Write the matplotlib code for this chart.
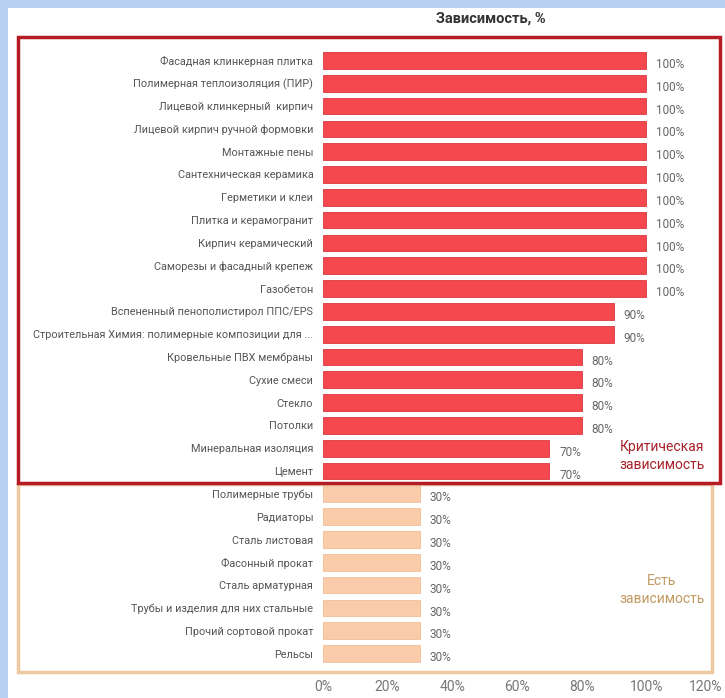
import matplotlib.pyplot as plt
import matplotlib.transforms as mtransforms
from matplotlib.patches import Rectangle

plt.rcParams['font.family'] = ['Roboto', 'DejaVu Sans']

categories = [
    "Фасадная клинкерная плитка",
    "Полимерная теплоизоляция (ПИР)",
    "Лицевой клинкерный  кирпич",
    "Лицевой кирпич ручной формовки",
    "Монтажные пены",
    "Сантехническая керамика",
    "Герметики и клеи",
    "Плитка и керамогранит",
    "Кирпич керамический",
    "Саморезы и фасадный крепеж",
    "Газобетон",
    "Вспененный пенополистирол ППС/EPS",
    "Строительная Химия: полимерные композиции для ...",
    "Кровельные ПВХ мембраны",
    "Сухие смеси",
    "Стекло",
    "Потолки",
    "Минеральная изоляция",
    "Цемент",
    "Полимерные трубы",
    "Радиаторы",
    "Сталь листовая",
    "Фасонный прокат",
    "Сталь арматурная",
    "Трубы и изделия для них стальные",
    "Прочий сортовой прокат",
    "Рельсы",
]
values = [100, 100, 100, 100, 100, 100, 100, 100, 100, 100, 100,
          90, 90, 80, 80, 80, 80, 70, 70,
          30, 30, 30, 30, 30, 30, 30, 30]
critical = [v >= 70 for v in values]
xticks = [0, 20, 40, 60, 80, 100, 120]

W, H = 725, 698
fig = plt.figure(figsize=(W / 100, H / 100), dpi=100)
fig.patch.set_facecolor("#b7d0f2")
fig.patches.append(Rectangle((8 / W, 0), 1, 1 - 8 / H, transform=fig.transFigure,
                             facecolor="white", edgecolor="none", zorder=-5))

def px(x, y):
    return x / W, 1 - y / H

# axes placed by pixels
left, top = px(323, 49)
right, bottom = px(711, 665)
ax = fig.add_axes([left, bottom, right - left, top - bottom])

ypos = list(range(len(categories)))
colors = ["#f5484e" if c else "#f9cba8" for c in critical]
edges = ["#d9383e" if c else "#f0bf98" for c in critical]
ax.barh(ypos, values, height=0.73, color=colors, edgecolor=edges, linewidth=0.6)
for y, v in zip(ypos, values):
    ax.text(v + 3, y + 0.18, f"{v}%", va="center", ha="left", fontsize=8.5, color="#666666")

ax.set_xlim(0, 120)
ax.set_ylim(len(categories) - 0.5, -0.5)
ax.set_yticks(ypos)
ax.set_yticklabels(categories, fontsize=7.8, color="#555555")
ax.set_xticks(xticks)
ax.set_xticklabels([f"{t}%" for t in xticks], fontsize=10, color="#777777")
ax.tick_params(axis="both", length=0)
ax.tick_params(axis="y", pad=7)
ax.tick_params(axis="x", pad=11)
# last tick label sits against the right edge, nudge it in
last = ax.get_xticklabels()[-1]
last.set_transform(last.get_transform() +
                   mtransforms.ScaledTranslation(-5 / 100, 0, fig.dpi_scale_trans))
for s in ax.spines.values():
    s.set_visible(False)
ax.set_facecolor("none")

# grouping frames
x0, y0 = px(18, 483)
x1, y1 = px(720, 37)
fig.patches.append(Rectangle((x0, y0), x1 - x0, y1 - y0, transform=fig.transFigure,
                             fill=False, edgecolor="#b51c25", linewidth=2.5, zorder=5))
x0, y0 = px(18, 672)
x1, y1 = px(712, 484)
fig.patches.append(Rectangle((x0, y0), x1 - x0, y1 - y0, transform=fig.transFigure,
                             fill=False, edgecolor="#edc9a0", linewidth=2.5, zorder=4))

fig.text(*px(662, 456), "Критическая\nзависимость", ha="center", va="center",
         fontsize=10, color="#a8222c", linespacing=1.4)
fig.text(*px(662, 590), "Есть\nзависимость", ha="center", va="center",
         fontsize=10, color="#c29a62", linespacing=1.4)
fig.text(*px(491, 19), "Зависимость, %", ha="center", va="center",
         fontsize=10.5, color="#333333", fontweight="bold")

fig.savefig("out.png", dpi=100, facecolor=fig.get_facecolor())
